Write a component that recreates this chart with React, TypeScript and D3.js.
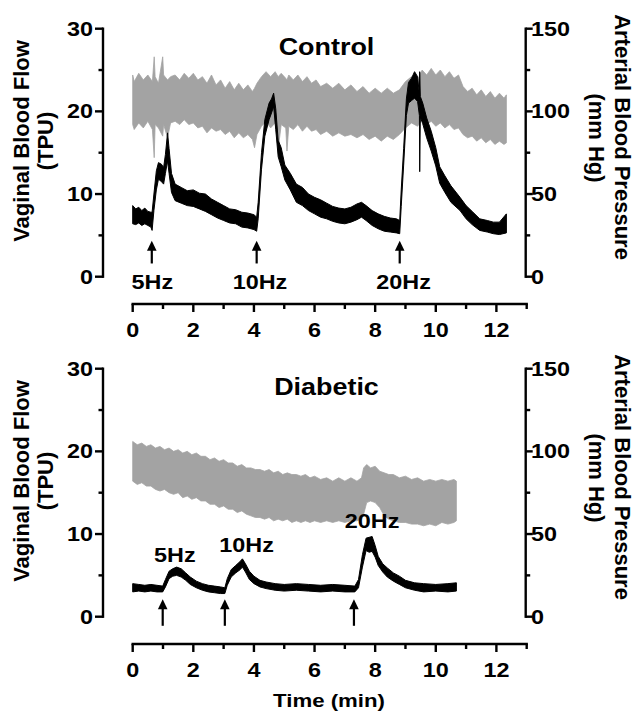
import React from 'react';
import * as d3 from 'd3';

// ---- Control panel: vaginal blood flow (TPU), min / max of the trace ----
const ctrlFlowT = [0, 0.1, 0.2, 0.3, 0.4, 0.5, 0.6, 0.64, 0.7, 0.78, 0.85, 0.95, 1.02, 1.08, 1.15, 1.2, 1.28, 1.4, 1.6, 1.8, 2.0, 2.2, 2.4, 2.6, 2.8, 3.0, 3.2, 3.4, 3.6, 3.8, 4.0, 4.09, 4.14, 4.25, 4.36, 4.5, 4.58, 4.65, 4.72, 4.8, 4.9, 5.02, 5.2, 5.4, 5.6, 5.8, 6.0, 6.2, 6.4, 6.6, 6.8, 7.0, 7.2, 7.4, 7.55, 7.7, 7.9, 8.1, 8.3, 8.5, 8.7, 8.81, 8.86, 8.94, 9.03, 9.1, 9.2, 9.3, 9.4, 9.46, 9.47, 9.49, 9.57, 9.7, 9.85, 10.0, 10.13, 10.3, 10.5, 10.8, 11.0, 11.2, 11.45, 11.7, 11.9, 12.1, 12.33];
const ctrlFlowLo = [6.4, 6.3, 6.5, 6.2, 6.4, 6.2, 6.0, 5.6, 8.0, 10.5, 11.8, 11.5, 11.2, 12.5, 14.0, 12.5, 10.2, 9.2, 8.9, 8.6, 8.5, 8.2, 7.9, 7.5, 7.1, 6.8, 6.5, 6.4, 6.0, 5.9, 5.7, 5.5, 7.0, 13.0, 17.0, 19.0, 19.8, 20.6, 17.8, 14.5, 13.3, 11.7, 10.5, 9.0, 8.6, 8.0, 7.6, 7.2, 7.0, 6.7, 6.5, 6.4, 6.6, 6.9, 7.2, 6.8, 6.2, 5.8, 5.5, 5.4, 5.3, 5.2, 8.5, 13.5, 19.5, 21.0, 21.3, 21.6, 21.2, 19.5, 12.7, 19.3, 18.5, 16.8, 15.2, 13.4, 11.3, 10.2, 9.0, 8.0, 7.0, 6.3, 5.6, 5.4, 5.2, 5.1, 5.3];
const ctrlFlowHi = [8.6, 8.2, 8.4, 8.0, 8.3, 7.9, 7.8, 7.8, 10.0, 12.8, 13.8, 13.6, 13.2, 14.8, 17.4, 15.5, 12.5, 11.2, 10.8, 10.4, 10.5, 10.1, 10.0, 9.4, 9.0, 8.6, 8.2, 8.1, 7.8, 7.7, 7.5, 7.2, 9.0, 15.0, 19.0, 21.0, 21.5, 22.2, 20.3, 16.5, 15.6, 13.5, 12.5, 11.2, 10.8, 10.0, 9.6, 9.3, 8.9, 8.5, 8.3, 8.2, 8.4, 8.8, 9.0, 8.6, 8.0, 7.6, 7.3, 7.1, 7.0, 6.8, 10.5, 15.5, 21.5, 23.5, 24.0, 24.8, 24.2, 22.0, 24.8, 21.8, 21.0, 19.2, 17.6, 15.6, 13.3, 12.2, 11.0, 9.6, 8.6, 7.9, 7.0, 6.8, 6.6, 6.6, 7.6];

// ---- Control panel: arterial blood pressure (mm Hg), envelope ----
const ctrlBpT = [0, 0.05, 0.2, 0.35, 0.5, 0.65, 0.71, 0.74, 0.85, 0.99, 1.02, 1.15, 1.25, 1.4, 1.55, 1.7, 1.85, 2.0, 2.15, 2.3, 2.45, 2.6, 2.75, 2.9, 3.05, 3.2, 3.35, 3.5, 3.65, 3.8, 3.95, 4.02, 4.1, 4.25, 4.4, 4.55, 4.7, 4.8, 4.9, 5.05, 5.09, 5.15, 5.3, 5.45, 5.6, 5.75, 5.9, 6.05, 6.2, 6.4, 6.6, 6.8, 7.0, 7.2, 7.4, 7.6, 7.8, 8.0, 8.2, 8.4, 8.6, 8.8, 9.0, 9.2, 9.4, 9.55, 9.7, 9.85, 10.0, 10.15, 10.3, 10.45, 10.6, 10.75, 10.9, 11.05, 11.2, 11.35, 11.5, 11.65, 11.8, 11.95, 12.1, 12.25, 12.33];
const ctrlBpHi = [122, 118, 123, 119, 122, 118, 133, 121, 117, 133, 122, 119, 121, 122, 119, 123, 120, 123, 119, 121, 117, 122, 116, 119, 114, 118, 113, 117, 113, 116, 112, 114, 117, 121, 124, 121, 124, 121, 123, 120, 119, 122, 119, 122, 118, 121, 117, 119, 115, 117, 114, 117, 113, 116, 112, 115, 111, 114, 111, 114, 111, 113, 118, 121, 119, 125, 122, 126, 122, 125, 121, 124, 120, 122, 115, 112, 114, 110, 113, 109, 112, 108, 111, 108, 110];
const ctrlBpLo = [92, 89, 93, 90, 94, 89, 72, 92, 90, 85, 92, 84, 93, 94, 92, 95, 92, 93, 90, 91, 87, 90, 88, 89, 86, 88, 84, 87, 84, 86, 83, 78, 86, 91, 94, 90, 93, 77, 92, 90, 76, 91, 89, 92, 88, 91, 88, 89, 86, 88, 85, 87, 85, 86, 84, 86, 83, 85, 82, 85, 83, 86, 90, 93, 91, 95, 92, 94, 91, 93, 90, 92, 89, 90, 86, 84, 85, 82, 84, 81, 83, 80, 82, 80, 81];

const ctrlStimT = [0.63, 4.09, 8.81];
const ctrlArrowTip = [4.35, 4.35, 4.35];
const ctrlArrowTail = [1.6, 1.6, 1.6];
const ctrlLabels = ['5Hz', '10Hz', '20Hz'];
const ctrlLabelT = [0.65, 4.2, 8.94];
const ctrlLabelV = [-1.5, -1.5, -1.5];

// ---- Diabetic panel: vaginal blood flow (TPU) ----
const diabFlowT = [0, 0.2, 0.4, 0.6, 0.8, 0.99, 1.08, 1.2, 1.32, 1.45, 1.6, 1.75, 1.9, 2.1, 2.3, 2.5, 2.7, 2.9, 3.04, 3.12, 3.25, 3.4, 3.55, 3.62, 3.72, 3.85, 4.0, 4.2, 4.4, 4.7, 5.0, 5.4, 5.8, 6.2, 6.6, 7.0, 7.33, 7.45, 7.58, 7.7, 7.8, 7.9, 8.0, 8.1, 8.25, 8.4, 8.6, 8.8, 9.0, 9.3, 9.6, 10.0, 10.4, 10.68];
const diabFlowLo = [3.0, 3.1, 3.0, 3.1, 3.0, 3.0, 3.6, 4.6, 4.9, 5.0, 4.8, 4.4, 3.9, 3.5, 3.2, 3.0, 2.9, 2.8, 2.8, 3.8, 4.8, 5.3, 5.7, 6.0, 5.4, 4.5, 4.0, 3.6, 3.4, 3.2, 3.1, 3.2, 3.1, 3.0, 3.1, 3.0, 3.0, 3.5, 6.0, 8.0, 7.8, 7.9, 7.2, 6.2, 5.4, 4.8, 4.3, 3.9, 3.5, 3.2, 3.0, 3.1, 3.0, 3.1];
const diabFlowHi = [4.0, 3.9, 3.8, 3.9, 3.8, 3.7, 4.5, 5.5, 5.8, 6.0, 5.8, 5.3, 4.8, 4.3, 4.0, 3.8, 3.7, 3.6, 3.5, 4.6, 5.7, 6.2, 6.7, 7.0, 6.4, 5.5, 4.9, 4.4, 4.2, 4.0, 3.9, 4.0, 3.9, 3.8, 3.9, 3.8, 3.7, 4.5, 7.5, 9.5, 9.6, 9.7, 8.6, 7.3, 6.4, 5.9, 5.3, 4.9, 4.4, 4.1, 4.0, 3.9, 4.0, 4.1];

// ---- Diabetic panel: arterial blood pressure (mm Hg) ----
const diabBpT = [0, 0.15, 0.3, 0.45, 0.6, 0.75, 0.9, 1.05, 1.2, 1.35, 1.5, 1.65, 1.8, 1.95, 2.1, 2.25, 2.4, 2.55, 2.7, 2.85, 3.0, 3.15, 3.3, 3.45, 3.6, 3.75, 3.9, 4.05, 4.2, 4.35, 4.5, 4.65, 4.8, 4.95, 5.1, 5.25, 5.4, 5.55, 5.7, 5.85, 6.0, 6.2, 6.4, 6.6, 6.8, 7.0, 7.2, 7.4, 7.55, 7.62, 7.72, 7.85, 8.0, 8.15, 8.3, 8.45, 8.6, 8.8, 9.0, 9.2, 9.4, 9.6, 9.8, 10.0, 10.2, 10.4, 10.6, 10.68];
const diabBpHi = [106, 104, 105, 103, 104, 102, 103, 101, 102, 100, 101, 99, 100, 98, 99, 97, 97, 95, 96, 94, 95, 93, 93, 91, 92, 90, 90, 89, 89, 88, 89, 87, 88, 86, 87, 86, 86, 85, 86, 84, 85, 83, 84, 82, 84, 82, 84, 82, 84, 90, 92, 90, 91, 88, 87, 86, 86, 84, 85, 83, 84, 82, 83, 82, 83, 82, 83, 82];
const diabBpLo = [82, 80, 81, 79, 79, 77, 76, 77, 75, 74, 75, 72, 73, 71, 72, 70, 70, 68, 68, 66, 67, 65, 65, 63, 64, 62, 61, 60, 60, 59, 60, 58, 59, 58, 59, 57, 58, 57, 58, 57, 58, 57, 58, 57, 58, 57, 58, 58, 59, 62, 69, 70, 69, 66, 61, 59, 58, 57, 57, 56, 56, 55, 56, 55, 57, 56, 57, 58];

const diabStimT = [0.99, 3.04, 7.3];
const diabArrowTip = [2.1, 2.1, 2.1];
const diabArrowTail = [-1.1, -1.1, -1.1];
const diabLabels = ['5Hz', '10Hz', '20Hz'];
const diabLabelT = [1.39, 3.76, 7.9];
const diabLabelV = [6.64, 7.85, 10.7];

const xMajor = [0, 2, 4, 6, 8, 10, 12];
const xMinor = [1, 3, 5, 7, 9, 11, 13];
const flowMajor = [0, 10, 20, 30];
const flowMinor = [5, 15, 25];
const bpMajor = [0, 50, 100, 150];
const bpMinor = [25, 75, 125];

const FONT = '"Liberation Sans", Arial, Helvetica, sans-serif';
const SX = 1.17; // the source figure is slightly stretched horizontally

const HText: React.FC<{ x: number; y: number; size: number; anchor?: string; children: React.ReactNode }> = ({ x, y, size, anchor = 'middle', children }) => (
  <text transform={`translate(${x},${y}) scale(${SX},1)`} textAnchor={anchor} fontSize={size} fontWeight="bold" fontFamily={FONT} fill="#000">
    {children}
  </text>
);

interface PanelProps {
  dy: number;
  title: string;
  flowT: number[]; flowLo: number[]; flowHi: number[];
  bpT: number[]; bpLo: number[]; bpHi: number[];
  stimT: number[]; tip: number[]; tail: number[];
  labels: string[]; labelT: number[]; labelV: number[];
}

const x = d3.scaleLinear().domain([0, 13]).range([132.7, 526.7]);

const Panel: React.FC<PanelProps> = (p) => {
  const yFlow = d3.scaleLinear().domain([0, 30]).range([276.7 + p.dy, 28.7 + p.dy]);
  const yBp = d3.scaleLinear().domain([0, 150]).range([276.7 + p.dy, 28.7 + p.dy]);
  const axisY = 304 + p.dy;
  const leftX = 103;
  const rightX = 525.7;

  const bpArea = d3.area<number>()
    .x((_, i) => x(p.bpT[i]))
    .y0((_, i) => yBp(p.bpLo[i]))
    .y1((_, i) => yBp(p.bpHi[i]));
  const flowArea = d3.area<number>()
    .x((_, i) => x(p.flowT[i]))
    .y0((_, i) => yFlow(p.flowLo[i]))
    .y1((_, i) => yFlow(p.flowHi[i]));

  const sw = 2.4;
  return (
    <g>
      {/* traces */}
      <path d={bpArea(p.bpT) || ''} fill="#a3a3a3" stroke="#a3a3a3" strokeWidth={0.8} />
      <path d={flowArea(p.flowT) || ''} fill="#000" stroke="#000" strokeWidth={1} strokeLinejoin="round" />

      {/* left axis */}
      <line x1={leftX} x2={leftX} y1={yFlow(30) - sw / 2} y2={yFlow(0) + sw / 2} stroke="#000" strokeWidth={sw} />
      {flowMajor.map(v => (
        <g key={'fm' + v}>
          <line x1={leftX - 8} x2={leftX} y1={yFlow(v)} y2={yFlow(v)} stroke="#000" strokeWidth={sw} />
          <HText x={93} y={yFlow(v) + 7} size={20} anchor="end">{v}</HText>
        </g>
      ))}
      {flowMinor.map(v => (
        <line key={'fn' + v} x1={leftX - 4.5} x2={leftX} y1={yFlow(v)} y2={yFlow(v)} stroke="#000" strokeWidth={sw} />
      ))}

      {/* right axis */}
      <line x1={rightX} x2={rightX} y1={yBp(150) - sw / 2} y2={yBp(0) + sw / 2} stroke="#000" strokeWidth={sw} />
      {bpMajor.map(v => (
        <g key={'bm' + v}>
          <line x1={rightX} x2={rightX + 7} y1={yBp(v)} y2={yBp(v)} stroke="#000" strokeWidth={sw} />
          <HText x={531} y={yBp(v) + 7} size={20} anchor="start">{v}</HText>
        </g>
      ))}
      {bpMinor.map(v => (
        <line key={'bn' + v} x1={rightX} x2={rightX + 4.5} y1={yBp(v)} y2={yBp(v)} stroke="#000" strokeWidth={sw} />
      ))}

      {/* x axis */}
      <line x1={x(0) - sw / 2} x2={x(13) + sw / 2} y1={axisY} y2={axisY} stroke="#000" strokeWidth={sw} />
      {xMajor.map(v => (
        <g key={'xm' + v}>
          <line x1={x(v)} x2={x(v)} y1={axisY} y2={axisY + 8} stroke="#000" strokeWidth={sw} />
          <HText x={x(v)} y={axisY + 32.7} size={20}>{v}</HText>
        </g>
      ))}
      {xMinor.map(v => (
        <line key={'xn' + v} x1={x(v)} x2={x(v)} y1={axisY} y2={axisY + 5} stroke="#000" strokeWidth={sw} />
      ))}

      {/* stimulation arrows */}
      {p.stimT.map((t, i) => {
        const ax = x(t);
        const yt = yFlow(p.tip[i]);
        const yb = yFlow(p.tail[i]);
        return (
          <g key={'ar' + i}>
            <line x1={ax} x2={ax} y1={yt + 8} y2={yb} stroke="#000" strokeWidth={2.2} />
            <path d={`M${ax},${yt} L${ax - 4.8},${yt + 10} L${ax + 4.8},${yt + 10} Z`} fill="#000" />
          </g>
        );
      })}
      {p.labels.map((s, i) => (
        <HText key={'lb' + i} x={x(p.labelT[i])} y={yFlow(p.labelV[i])} size={20}>{s}</HText>
      ))}

      {/* title */}
      <HText x={326.5} y={55 + p.dy} size={23}>{p.title}</HText>

      {/* axis titles */}
      <text transform={`translate(28.7,${141 + p.dy}) rotate(-90)`} textAnchor="middle" fontSize={22} fontWeight="bold" fontFamily={FONT}>Vaginal Blood Flow</text>
      <text transform={`translate(53,${141 + p.dy}) rotate(-90)`} textAnchor="middle" fontSize={22} fontWeight="bold" fontFamily={FONT}>(TPU)</text>
      <text transform={`translate(615,${137 + p.dy}) rotate(90)`} textAnchor="middle" fontSize={22} fontWeight="bold" fontFamily={FONT}>Arterial Blood Pressure</text>
      <text transform={`translate(588.5,${138 + p.dy}) rotate(90)`} textAnchor="middle" fontSize={22} fontWeight="bold" fontFamily={FONT}>(mm Hg)</text>
    </g>
  );
};

const App: React.FC = () => {
  return (
    <svg width={635} height={717} style={{ position: 'absolute', left: 0, top: 0, background: '#fff' }}>
      <Panel
        dy={0} title="Control"
        flowT={ctrlFlowT} flowLo={ctrlFlowLo} flowHi={ctrlFlowHi}
        bpT={ctrlBpT} bpLo={ctrlBpLo} bpHi={ctrlBpHi}
        stimT={ctrlStimT} tip={ctrlArrowTip} tail={ctrlArrowTail}
        labels={ctrlLabels} labelT={ctrlLabelT} labelV={ctrlLabelV}
      />
      <Panel
        dy={340} title="Diabetic"
        flowT={diabFlowT} flowLo={diabFlowLo} flowHi={diabFlowHi}
        bpT={diabBpT} bpLo={diabBpLo} bpHi={diabBpHi}
        stimT={diabStimT} tip={diabArrowTip} tail={diabArrowTail}
        labels={diabLabels} labelT={diabLabelT} labelV={diabLabelV}
      />
      <HText x={329} y={707} size={19}>Time (min)</HText>
    </svg>
  );
};

export default App;
